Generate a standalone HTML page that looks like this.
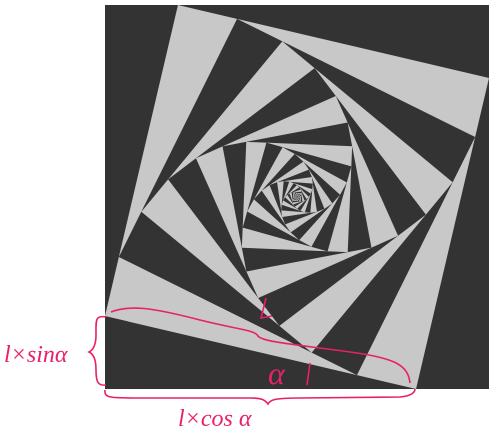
<!DOCTYPE html>
<html><head><meta charset="utf-8"><style>
html,body{margin:0;padding:0;background:#fff;width:495px;height:434px;overflow:hidden}
svg{display:block}
text{font-family:"Liberation Serif",serif;fill:#e8206a;font-style:italic}
</style></head><body>
<svg id="fig" width="495" height="434">
<rect x="105" y="5" width="384" height="384" fill="#333"/>
<g id="squares"></g>
<g fill="none" stroke="#e8206a" stroke-width="1.6">
<path d="M106,317 C95,315 96,320 96,335 C96,345 93,350 89,352 C93,354 96,358 96,370 C96,382 98,386 106,385"/>
<path d="M105,390 C104,398 110,398 140,398 L250,398 C262,398 265,400 268,404 C270,400 274,398 300,398 L400,397 C412,396 415,392 415,389"/>
<path d="M111,312 C130,305 150,307 200,320 C240,330 255,330 258,336 C262,342 300,345 350,352 C395,358 408,365 410,383"/>
<path d="M266,298 L261,318 L272,316"/>
<path d="M310,363 L307,385"/>
</g>
<text x="268" y="384" font-size="32">α</text>
<text x="4" y="362" font-size="24">l×sinα</text>
<text x="178" y="426" font-size="24">l×cos α</text>
</svg>
<script>
const outerCorners = [[105,389],[489,389],[489,5],[105,5]];
const edgeFraction = [0.81];
const levels = [46];
const colors = ["#c8c8c8","#333333"];
const g = document.getElementById('squares');
let pts = outerCorners.map(p=>p.slice());
const t = edgeFraction[0];
for (let i=0;i<levels[0];i++){
  const np=[];
  for(let k=0;k<4;k++){const a=pts[k],b=pts[(k+1)%4];np.push([a[0]+t*(b[0]-a[0]),a[1]+t*(b[1]-a[1])]);}
  pts=np;
  const poly=document.createElementNS('http://www.w3.org/2000/svg','polygon');
  poly.setAttribute('points',pts.map(p=>p.join(',')).join(' '));
  poly.setAttribute('fill',colors[i%2]);
  
  
  g.appendChild(poly);
}
</script>
</body></html>
